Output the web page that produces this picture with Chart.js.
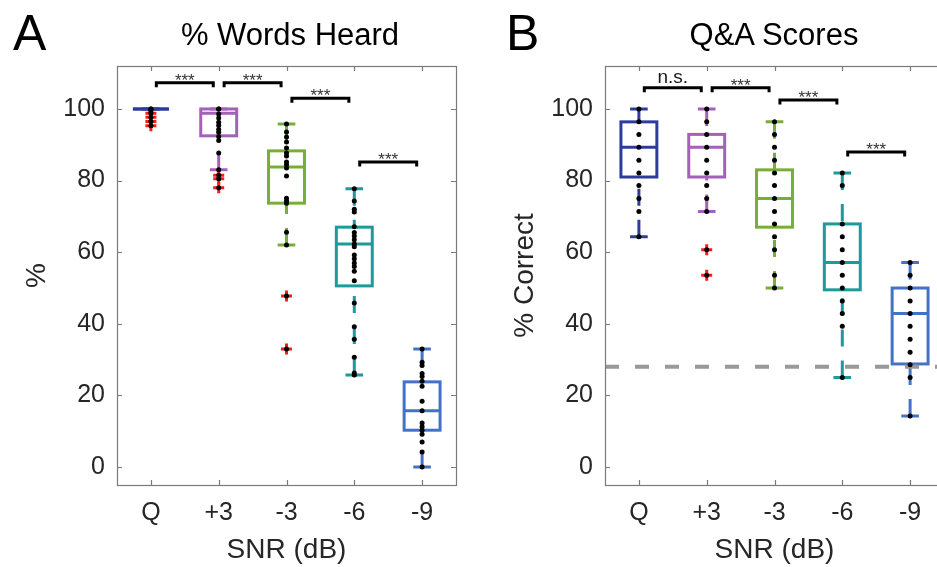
<!DOCTYPE html>
<html>
<head>
<meta charset="utf-8">
<script src="https://cdn.jsdelivr.net/npm/chart.js@4.4.1/dist/chart.umd.min.js"></script>
<style>
  html, body { margin: 0; padding: 0; background: #fff; overflow: hidden; }
  #wrap { position: relative; width: 937px; height: 567px; overflow: hidden; }
  canvas { position: absolute; top: 0; }
  .lbl { position: absolute; font-family: 'Liberation Sans', Arial, sans-serif; color: #000; white-space: nowrap; }
</style>
</head>
<body>
<div id="wrap">
  <canvas id="chartA" width="468" height="567" style="left:0px"></canvas>
  <canvas id="chartB" width="468" height="567" style="left:488px"></canvas>
  <div class="lbl" style="left:13px; top:8px; font-size:50px; line-height:50px;">A</div>
  <div class="lbl" style="left:290px; top:20px; font-size:31px; line-height:30px; transform:translateX(-50%);">% Words Heard</div>
  <div class="lbl" style="left:506px; top:8px; font-size:50px; line-height:50px;">B</div>
  <div class="lbl" style="left:774px; top:20px; font-size:31px; line-height:30px; transform:translateX(-50%);">Q&amp;A Scores</div>
</div>
<script>
// Groups (SNR conditions) and their box colours
const groups = ['Q', '+3', '-3', '-6', '-9'];
const boxColors = ['#2d3c9b', '#a361b9', '#77ae38', '#1d9a9a', '#4472c4'];
const yTicks = [0, 20, 40, 60, 80, 100];

// Panel A: % words heard
const wordsLow = [100, 83, 62, 25.7, 0];
const wordsQ1 = [100, 92.5, 73.7, 50.6, 10.3];
const wordsMedian = [100, 98.8, 83.8, 62.3, 15.7];
const wordsQ3 = [100, 100, 88.3, 67, 23.8];
const wordsHigh = [100, 100, 95.8, 77.7, 33];
const wordsOutliers = [[98.8, 97.7, 96.5, 95.3], [81.5, 80.5, 78], [47.8, 33], [], []];
const wordsScores = [
    [100, 100, 99.5, 98.8, 97.7, 96.5, 95.3],
    [100, 100, 98.6, 97.5, 96.3, 95.4, 94.3, 93.5, 92.3, 91.2, 87.7, 83, 81.5, 80.5, 78],
    [95.8, 93.6, 92.2, 90.8, 89.1, 87.7, 86.9, 85.2, 84.4, 83.5, 81.3, 75.1, 74.3, 73.7, 65.6, 62, 47.8, 33],
    [77.7, 74.3, 72, 71.2, 67.1, 65.5, 64.5, 63.5, 62.3, 61.5, 59.2, 58.2, 57, 56, 54.7, 52, 45.8, 39.2, 35.7, 30.7, 26.3, 25.7],
    [33, 29.3, 28.4, 26.1, 25.3, 24, 22.6, 18.4, 15.7, 12.3, 11.3, 10.3, 9.2, 7, 4.2, 0]
];
const wordsSigStart = [1, 2, 3, 4];
const wordsSigLevel = [107.3, 107.3, 103, 85.2];
const wordsSigText = ['***', '***', '***', '***'];

// Panel B: Q&A scores
const qaLow = [64.3, 71.4, 50, 25, 14.3];
const qaQ1 = [81, 81, 67, 49.5, 28.8];
const qaMedian = [89.3, 89.3, 75, 57.1, 42.9];
const qaQ3 = [96.4, 92.9, 83, 67.9, 50];
const qaHigh = [100, 100, 96.4, 82.1, 57.1];
const qaOutliers = [[], [60.7, 53.6], [], [], []];
const qaScores = [
    [100, 96.4, 92.9, 89.3, 85.7, 82.1, 78.6, 75, 71.4, 64.3],
    [100, 96.4, 92.9, 89.3, 85.7, 82.1, 78.6, 75, 71.4, 60.7, 53.6],
    [96.4, 92.9, 89.3, 85.7, 82.1, 78.6, 75, 71.4, 67.9, 64.3, 60.7, 53.6, 50],
    [82.1, 78.6, 67.9, 64.3, 60.7, 57.1, 53.6, 50, 46.4, 42.9, 39.3, 25],
    [57.1, 53.6, 50, 46.4, 42.9, 39.3, 35.7, 32.1, 28.6, 25, 14.3]
];
const qaSigStart = [1, 2, 3, 4];
const qaSigLevel = [105.9, 105.9, 102.5, 88];
const qaSigText = ['n.s.', '***', '***', '***'];
const qaChance = 28;

const FONT = "'Liberation Sans', Arial, sans-serif";
Chart.defaults.font.family = FONT;
Chart.defaults.color = '#262626';

// Turn a list of per-group arrays into scatter points
function toPoints(lists) {
    const pts = [];
    lists.forEach((vals, i) => vals.forEach(v => pts.push({ x: i + 1, y: v })));
    return pts;
}

// Box, whiskers, frame, inward ticks and significance brackets
function boxPlugin(stats) {
    return {
        id: 'boxes',
        beforeDatasetsDraw(chart) {
            const { ctx, scales: { x, y } } = chart;
            const halfBox = 0.265, halfCap = 0.13;
            stats.median.forEach((med, i) => {
                const c = i + 1;
                const xl = x.getPixelForValue(c - halfBox);
                const xr = x.getPixelForValue(c + halfBox);
                const cl = x.getPixelForValue(c - halfCap);
                const cr = x.getPixelForValue(c + halfCap);
                const xc = x.getPixelForValue(c);
                const yLow = y.getPixelForValue(stats.low[i]);
                const yQ1 = y.getPixelForValue(stats.q1[i]);
                const yMed = y.getPixelForValue(med);
                const yQ3 = y.getPixelForValue(stats.q3[i]);
                const yHigh = y.getPixelForValue(stats.high[i]);
                ctx.save();
                ctx.strokeStyle = boxColors[i];
                ctx.lineWidth = 3;
                // dashed whiskers, drawn from the cap toward the box
                ctx.setLineDash([17, 14]);
                ctx.beginPath();
                ctx.moveTo(xc, yHigh); ctx.lineTo(xc, yQ3);
                ctx.moveTo(xc, yLow); ctx.lineTo(xc, yQ1);
                ctx.stroke();
                ctx.setLineDash([]);
                // caps
                ctx.beginPath();
                ctx.moveTo(cl, yHigh); ctx.lineTo(cr, yHigh);
                ctx.moveTo(cl, yLow); ctx.lineTo(cr, yLow);
                ctx.stroke();
                // box and median
                ctx.strokeRect(xl, yQ3, xr - xl, yQ1 - yQ3);
                ctx.beginPath();
                ctx.moveTo(xl, yMed); ctx.lineTo(xr, yMed);
                ctx.stroke();
                ctx.restore();
            });
        },
        afterDraw(chart) {
            const { ctx, chartArea: { left, right, top, bottom }, scales: { x, y } } = chart;
            ctx.save();
            // axes frame with inward ticks
            ctx.strokeStyle = '#7a7a7a';
            ctx.lineWidth = 1.2;
            ctx.strokeRect(left + 0.5, top + 0.5, right - left, bottom - top);
            ctx.beginPath();
            x.ticks.forEach(t => {
                const px = Math.round(x.getPixelForValue(t.value)) + 0.5;
                ctx.moveTo(px, bottom); ctx.lineTo(px, bottom - 5);
                ctx.moveTo(px, top); ctx.lineTo(px, top + 5);
            });
            y.ticks.forEach(t => {
                const py = Math.round(y.getPixelForValue(t.value)) + 0.5;
                ctx.moveTo(left, py); ctx.lineTo(left + 5, py);
                ctx.moveTo(right, py); ctx.lineTo(right - 5, py);
            });
            ctx.stroke();

            // significance brackets
            stats.sigStart.forEach((g, k) => {
                const x1 = x.getPixelForValue(g + 0.08);
                const x2 = x.getPixelForValue(g + 0.92);
                const yy = y.getPixelForValue(stats.sigLevel[k]);
                ctx.strokeStyle = '#000';
                ctx.lineWidth = 3;
                ctx.beginPath();
                ctx.moveTo(x1, yy + 4.5); ctx.lineTo(x1, yy); ctx.lineTo(x2, yy); ctx.lineTo(x2, yy + 4.5);
                ctx.stroke();
                const label = stats.sigText[k];
                ctx.textAlign = 'center';
                ctx.textBaseline = 'alphabetic';
                if (label === 'n.s.') {
                    ctx.fillStyle = '#1a1a1a';
                    ctx.font = '19px ' + FONT;
                    ctx.fillText(label, (x1 + x2) / 2, yy - 5);
                } else {
                    ctx.fillStyle = '#333';
                    ctx.font = '17px ' + FONT;
                    ctx.fillText(label, (x1 + x2) / 2, yy + 3);
                }
            });
            ctx.restore();
        }
    };
}

function buildChart(canvasId, yTitle, stats, scores, outliers, chance) {
    const datasets = [
        {
            type: 'scatter',
            data: toPoints(scores),
            pointRadius: 2.5,
            pointBackgroundColor: '#000',
            pointBorderWidth: 0,
            order: 1
        },
        {
            type: 'scatter',
            data: toPoints(outliers),
            pointStyle: 'cross',
            pointRadius: 5.5,
            pointBorderColor: '#ff1a1a',
            pointBorderWidth: 3,
            order: 2
        }
    ];
    if (chance !== undefined) {
        datasets.push({
            type: 'line',
            data: [{ x: 0.5, y: chance }, { x: 5.5, y: chance }],
            borderColor: '#999',
            borderWidth: 4,
            borderDash: [14, 16],
            pointRadius: 0,
            order: 3
        });
    }

    return new Chart(document.getElementById(canvasId), {
        type: 'scatter',
        data: { datasets },
        options: {
            responsive: false,
            animation: false,
            events: [],
            layout: { padding: { top: 66, right: 12, left: 0, bottom: 0 } },
            plugins: { legend: { display: false }, tooltip: { enabled: false } },
            scales: {
                x: {
                    type: 'linear',
                    min: 0.5,
                    max: 5.5,
                    afterBuildTicks: scale => { scale.ticks = groups.map((g, i) => ({ value: i + 1 })); },
                    afterFit: scale => { scale.height = 82; },
                    ticks: {
                        callback: v => groups[v - 1],
                        font: { size: 25 },
                        padding: 13,
                        maxRotation: 0,
                        autoSkip: false
                    },
                    grid: { drawOnChartArea: false, drawTicks: false },
                    border: { display: false },
                    title: {
                        display: true,
                        text: 'SNR (dB)',
                        font: { size: 28 },
                        padding: { top: 0, bottom: 0 }
                    }
                },
                y: {
                    min: -5,
                    max: 112,
                    afterBuildTicks: scale => { scale.ticks = yTicks.map(v => ({ value: v })); },
                    afterFit: scale => { scale.width = 117; },
                    ticks: { font: { size: 25 }, padding: 12 },
                    grid: { drawOnChartArea: false, drawTicks: false },
                    border: { display: false },
                    title: {
                        display: true,
                        text: yTitle,
                        font: { size: 28 },
                        padding: { top: 20, bottom: 0 }
                    }
                }
            }
        },
        plugins: [boxPlugin(stats)]
    });
}

buildChart('chartA', '%', {
    low: wordsLow, q1: wordsQ1, median: wordsMedian, q3: wordsQ3, high: wordsHigh,
    sigStart: wordsSigStart, sigLevel: wordsSigLevel, sigText: wordsSigText
}, wordsScores, wordsOutliers);

buildChart('chartB', '% Correct', {
    low: qaLow, q1: qaQ1, median: qaMedian, q3: qaQ3, high: qaHigh,
    sigStart: qaSigStart, sigLevel: qaSigLevel, sigText: qaSigText
}, qaScores, qaOutliers, qaChance);
</script>
</body>
</html>
